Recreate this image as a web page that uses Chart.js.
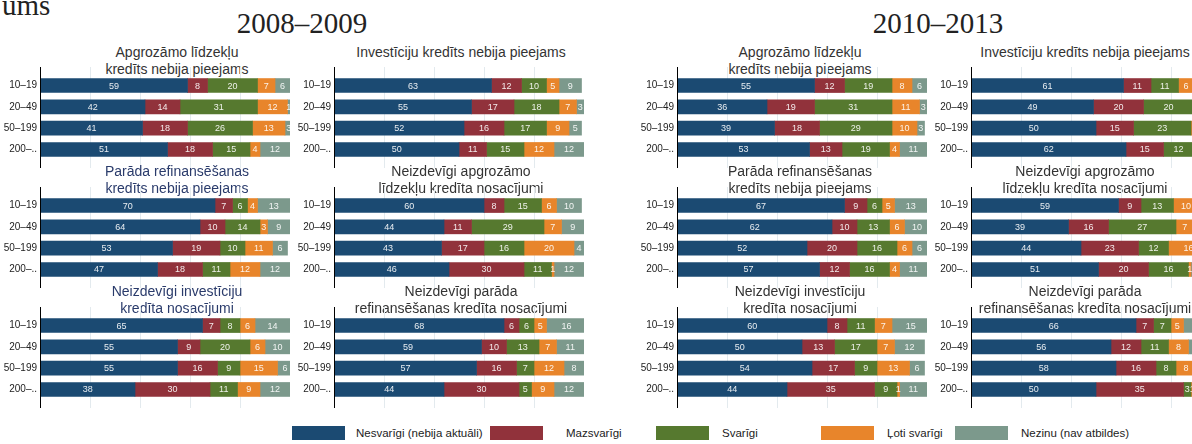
<!DOCTYPE html>
<html>
<head>
<meta charset="utf-8">
<script src="https://cdn.jsdelivr.net/npm/chart.js@4"></script>
<style>
  body { margin: 0; width: 1192px; height: 444px; overflow: hidden; background: #fff; position: relative;
         font-family: "Liberation Sans", Arial, sans-serif; }
  canvas { position: absolute; }
  .ttl { position: absolute; font-size: 14px; line-height: 17px; text-align: center; white-space: nowrap;
         transform: translateX(-50%); color: #333; }
  .big { position: absolute; font-family: "Liberation Serif", "Times New Roman", serif; font-size: 29px;
         line-height: 29px; color: #222; white-space: nowrap; }
  .lg { position: absolute; top: 426px; height: 14px; width: 53px; }
  .lt { position: absolute; top: 426px; font-size: 11.5px; line-height: 14px; color: #222; white-space: nowrap; }
</style>
</head>
<body>
<div class="big" style="left:2px;top:-9px">ums</div>
<div class="big" style="left:302px;top:9px;transform:translateX(-50%)">2008–2009</div>
<div class="big" style="left:938px;top:9px;transform:translateX(-50%)">2010–2013</div>
<div id="legend"></div>

<script>
const ages = ['10–19', '20–49', '50–199', '200–..'];
const series = ['Nesvarīgi (nebija aktuāli)', 'Mazsvarīgi', 'Svarīgi', 'Ļoti svarīgi', 'Nezinu (nav atbildes)'];
const colors = ['#1b4a72', '#91323b', '#56792f', '#e8852b', '#7c998c'];

// 2008–2009, one row per firm size: [nesvarīgi, mazsvarīgi, svarīgi, ļoti svarīgi, nezinu]
const a08  = [[59, 8, 20, 7, 6], [42, 14, 31, 12, 1], [41, 18, 26, 13, 3], [51, 18, 15, 4, 12]];
const i08  = [[63, 12, 10, 5, 9], [55, 17, 18, 7, 3], [52, 16, 17, 9, 5], [50, 11, 15, 12, 12]];
const r08  = [[70, 7, 6, 4, 13], [64, 10, 14, 3, 9], [53, 19, 10, 11, 6], [47, 18, 11, 12, 12]];
const na08 = [[60, 8, 15, 6, 10], [44, 11, 29, 7, 9], [43, 17, 16, 20, 4], [46, 30, 11, 1, 12]];
const ni08 = [[65, 7, 8, 6, 14], [55, 9, 20, 6, 10], [55, 16, 9, 15, 6], [38, 30, 11, 9, 12]];
const nr08 = [[68, 6, 6, 5, 16], [59, 10, 13, 7, 11], [57, 16, 7, 12, 8], [44, 30, 5, 9, 12]];

// 2010–2013
const a10  = [[55, 12, 19, 8, 6], [36, 19, 31, 11, 3], [39, 18, 29, 10, 3], [53, 13, 19, 4, 11]];
const i10  = [[61, 11, 11, 6, 11], [49, 20, 20, 7, 4], [50, 15, 23, 8, 4], [62, 15, 12, 1, 10]];
const r10  = [[67, 9, 6, 5, 13], [62, 10, 13, 6, 10], [52, 20, 16, 6, 6], [57, 12, 16, 4, 11]];
const na10 = [[59, 9, 13, 10, 9], [39, 16, 27, 7, 11], [44, 23, 12, 16, 5], [51, 20, 16, 1, 12]];
const ni10 = [[60, 8, 11, 7, 15], [50, 13, 17, 7, 12], [54, 17, 9, 13, 6], [44, 35, 9, 1, 11]];
const nr10 = [[66, 7, 7, 5, 15], [56, 12, 11, 8, 13], [58, 16, 8, 8, 10], [50, 35, 3, 1, 11]];

// layout
const axisX = [40, 334, 677, 971];
const axisTop = [67, 187, 307];
const titleX = [177, 461, 800, 1085];
const titleTop = [44, 163, 283];
const LBL = 45, PW = 250, PH = 101;
const NAVY = '#2a3b6b';

const panels = [
  { col: 0, row: 0, data: a08,  title: ['Apgrozāmo līdzekļu', 'kredīts nebija pieejams'] },
  { col: 1, row: 0, data: i08,  title: ['Investīciju kredīts nebija pieejams'] },
  { col: 0, row: 1, data: r08,  title: ['Parāda refinansēšanas', 'kredīts nebija pieejams'], color: NAVY },
  { col: 1, row: 1, data: na08, title: ['Neizdevīgi apgrozāmo', 'līdzekļu kredīta nosacījumi'] },
  { col: 0, row: 2, data: ni08, title: ['Neizdevīgi investīciju', 'kredīta nosacījumi'], color: NAVY },
  { col: 1, row: 2, data: nr08, title: ['Neizdevīgi parāda', 'refinansēšanas kredīta nosacījumi'] },
  { col: 2, row: 0, data: a10,  title: ['Apgrozāmo līdzekļu', 'kredīts nebija pieejams'] },
  { col: 3, row: 0, data: i10,  title: ['Investīciju kredīts nebija pieejams'] },
  { col: 2, row: 1, data: r10,  title: ['Parāda refinansēšanas', 'kredīts nebija pieejams'] },
  { col: 3, row: 1, data: na10, title: ['Neizdevīgi apgrozāmo', 'līdzekļu kredīta nosacījumi'] },
  { col: 2, row: 2, data: ni10, title: ['Neizdevīgi investīciju', 'kredīta nosacījumi'] },
  { col: 3, row: 2, data: nr10, title: ['Neizdevīgi parāda', 'refinansēšanas kredīta nosacījumi'] },
];

// numbers inside the segments
const segLabels = {
  id: 'segLabels',
  afterDatasetsDraw(chart) {
    const ctx = chart.ctx;
    ctx.save();
    ctx.font = '9px "Liberation Sans", Arial, sans-serif';
    ctx.fillStyle = 'rgba(255,255,255,0.9)';
    ctx.textAlign = 'center';
    ctx.textBaseline = 'middle';
    chart.data.datasets.forEach((ds, i) => {
      chart.getDatasetMeta(i).data.forEach((bar, j) => {
        const v = ds.data[j].x;
        if (!v) return;
        const p = bar.getProps(['x', 'base', 'y'], true);
        ctx.fillText(v, (p.x + p.base) / 2, p.y + 0.5);
      });
    });
    ctx.restore();
  }
};

// axis line on top of the bars, like the reference
const axisOnTop = {
  id: 'axisOnTop',
  afterDatasetsDraw(chart) {
    const a = chart.chartArea, ctx = chart.ctx;
    ctx.save();
    ctx.strokeStyle = '#000';
    ctx.lineWidth = 1;
    ctx.beginPath();
    ctx.moveTo(a.left + 0.5, a.top);
    ctx.lineTo(a.left + 0.5, a.bottom);
    ctx.stroke();
    ctx.restore();
  }
};

function makePanel(p) {
  const t = document.createElement('div');
  t.className = 'ttl';
  t.style.left = titleX[p.col] + 'px';
  t.style.top = titleTop[p.row] + 'px';
  if (p.color) t.style.color = p.color;
  t.innerHTML = p.title.join('<br>');
  document.body.appendChild(t);

  const cv = document.createElement('canvas');
  cv.width = LBL + PW;
  cv.height = PH;
  cv.style.left = (axisX[p.col] - LBL) + 'px';
  cv.style.top = axisTop[p.row] + 'px';
  document.body.appendChild(cv);

  const datasets = series.map((s, k) => ({
    label: s,
    data: p.data.map((r, i) => ({ x: r[k], y: i })),
    backgroundColor: colors[k],
    borderWidth: 0,
    barThickness: 14,
    stack: 's'
  }));

  new Chart(cv.getContext('2d'), {
    type: 'bar',
    data: { datasets: datasets },
    plugins: [segLabels, axisOnTop],
    options: {
      indexAxis: 'y',
      responsive: false,
      animation: false,
      devicePixelRatio: 1,
      layout: { padding: 0 },
      plugins: { legend: { display: false }, tooltip: { enabled: false } },
      scales: {
        x: {
          type: 'linear',
          stacked: true,
          min: 0,
          max: 100,
          ticks: { display: false, stepSize: 20 },
          grid: { color: '#e3eaee', drawTicks: false },
          border: { display: false },
          afterFit: s => { s.height = 0; s.paddingLeft = 0; s.paddingRight = 0; }
        },
        y: {
          type: 'linear',
          reverse: true,
          offset: false,
          min: -0.87,
          max: 3.87,
          afterBuildTicks: s => { s.ticks = [0, 1, 2, 3].map(v => ({ value: v })); },
          ticks: {
            callback: v => ages[v],
            font: { family: '"Liberation Sans", Arial, sans-serif', size: 10 },
            color: '#222',
            padding: 3
          },
          grid: { display: false, drawTicks: false, offset: false },
          border: { display: false },
          afterFit: s => { s.width = LBL; s.paddingTop = 0; s.paddingBottom = 0; }
        }
      }
    }
  });
}

panels.forEach(makePanel);

// legend
const lgBox = [292, 490, 656, 821, 955];
const lgText = [356, 566, 722, 887, 1021];
const lg = document.getElementById('legend');
series.forEach((s, k) => {
  const b = document.createElement('div');
  b.className = 'lg';
  b.style.left = lgBox[k] + 'px';
  b.style.background = colors[k];
  lg.appendChild(b);
  const t = document.createElement('div');
  t.className = 'lt';
  t.style.left = lgText[k] + 'px';
  t.textContent = s;
  lg.appendChild(t);
});
</script>
</body>
</html>
